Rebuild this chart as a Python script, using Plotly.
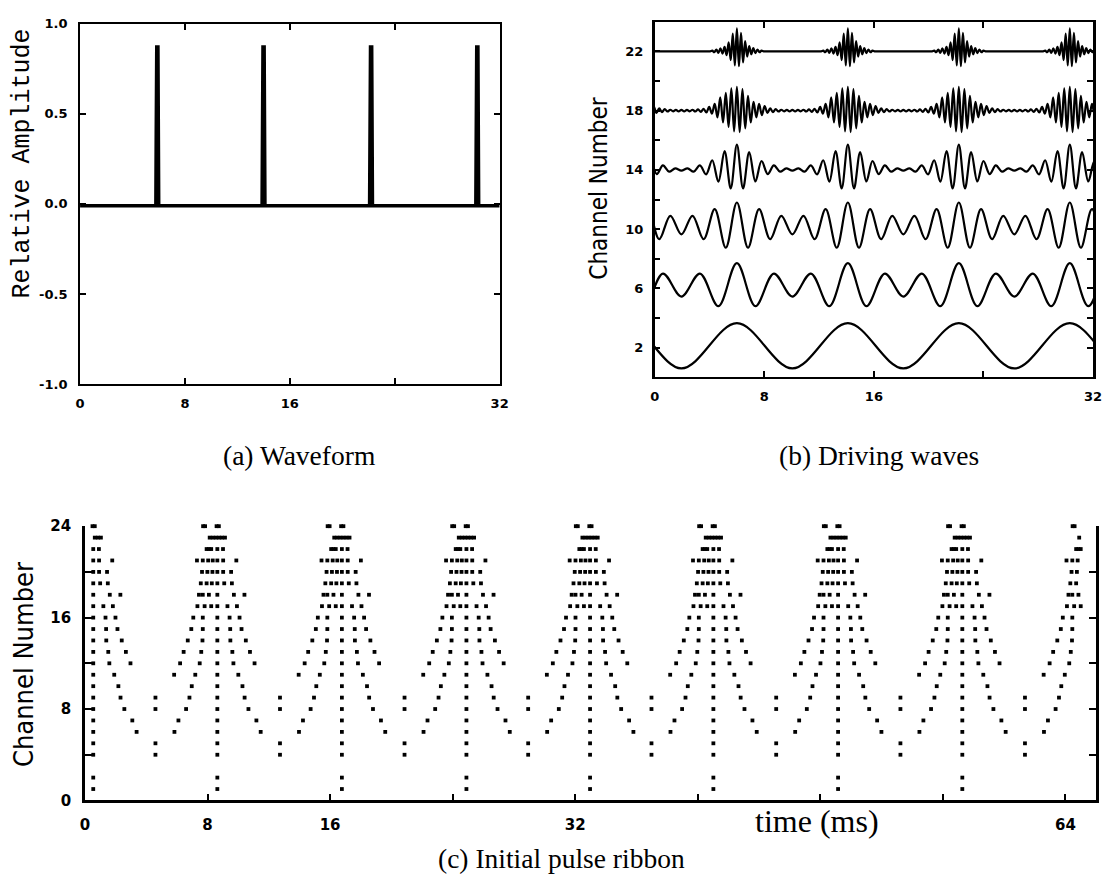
import plotly.graph_objects as go

# ---------------- data: panel (a) waveform ----------------
wave_spike_times = [5.9, 14.0, 22.2, 30.3]            # ms
wave_baseline = -0.01
spike_shape_dt = [-0.12, -0.09, -0.05, 0.04, 0.07, 0.1]
spike_shape_amp = [-0.01, 0.40, 0.87, 0.87, 0.30, -0.01]

# ---------------- data: panel (b) driving waves ----------------
drive_channels = [2, 6, 10, 14, 18, 22]
drive_centres = [-2.1, 6.0, 14.1, 22.2, 30.3, 38.4]    # ms, centre of each burst / peak
drive_period = 8.1
# extrema across one period, starting half a period before the centre
drive_ch2 = [-1.4, 1.65]
drive_ch6 = [-0.55, 1.0, -1.2, 1.7, -1.2, 1.0]
drive_ch10 = [-0.35, 0.9, -0.68, 1.35, -1.25, 1.8, -1.25, 1.35, -0.68, 0.9]
drive_ch14 = [-0.05, 0.1, -0.12, 0.3, -0.3, 0.65, -0.8, 1.27, -1.25, 1.7,
              -1.25, 1.2, -0.78, 0.6, -0.28, 0.3, -0.12, 0.1]
drive_ch18 = [0.05, -0.05, 0.05, -0.05, 0.06, -0.06, 0.08, -0.08, 0.12, -0.12,
              0.25, -0.2, 0.45, -0.45, 0.9, -0.8, 1.2, -1.1, 1.5, -1.4,
              1.6, -1.45, 1.45, -1.2, 1.0, -0.8, 0.6, -0.45, 0.45, -0.3,
              0.3, -0.15, 0.15, -0.1, 0.1, -0.06, 0.06, -0.05, 0.05, -0.05]
drive_ch22 = [0, 0, 0, 0, 0, 0, 0, 0, 0, 0, 0, 0, 0, 0, 0,
              0.05, -0.06, 0.12, -0.1, 0.2, -0.15, 0.3, -0.25, 0.6, -0.6,
              1.2, -0.95, 1.55, -1.0, 1.25, -0.75, 0.7, -0.35, 0.35, -0.2,
              0.22, -0.12, 0.12, -0.06, 0.05,
              0, 0, 0, 0, 0, 0, 0, 0, 0, 0, 0, 0, 0, 0]
drive_values = [drive_ch2, drive_ch6, drive_ch10, drive_ch14, drive_ch18, drive_ch22]

# ---------------- data: panel (c) pulse ribbon ----------------
ribbon_centres = [0.54, 8.64, 16.77, 24.9, 32.97, 41.02, 49.16, 57.27, 65.4]
ribbon_start = 0.45
ribbon_end = 65.0
ribbon_rows = [24, 23, 22, 21, 20, 19, 18, 17, 16, 15, 14, 13, 12, 11, 10, 9, 8, 7, 6, 5, 4, 2, 1]
ribbon_offsets = [
    [-0.93, -0.8, -0.05, 0.1],
    [-0.5, -0.3, -0.1, 0.1, 0.3, 0.5],
    [-0.7, -0.55, -0.4, 0.0, 0.37],
    [-1.33, -0.95, -0.6, -0.3, 0.0, 0.38, 1.24],
    [-1.0, -0.65, -0.32, 0.0, 0.38, 0.9],
    [-1.08, -0.7, -0.36, 0.0, 0.45, 0.95],
    [-1.2, -0.95, -0.55, 0.0, 1.08, 1.77],
    [-1.3, -0.83, -0.4, 0.0, 0.66, 1.28],
    [-1.57, -0.95, 0.0, 0.8, 1.45],
    [-1.7, -0.95, 0.0, 0.84, 1.58],
    [-1.93, -0.97, 0.0, 0.85, 1.86],
    [-2.2, -1.05, 0.0, 0.98, 2.13],
    [-2.43, -1.15, 0.0, 1.05, 2.43],
    [-2.82, -1.44, 0.0, 1.37],
    [-1.67, 0.0, 1.64],
    [-4.04, -1.82, 0.0, 1.78],
    [-4.04, -2.04, 0.0, 2.03],
    [-2.54, 0.0, 2.55],
    [-2.8, 0.0, 2.83],
    [-4.04, 0.0],
    [-4.04, 0.0],
    [0.0],
    [0.0],
]

# tick labels
a_xticks = [0, 8, 16, 24, 32]
a_xlabels = ["0", "8", "16", "", "32"]
a_yticks = [-1, -0.5, 0, 0.5, 1]
a_ylabels = ["-1.0", "-0.5", "0.0", "0.5", "1.0"]
b_yticks = [0, 2, 4, 6, 8, 10, 12, 14, 16, 18, 20, 22, 24]
b_ylabels = ["", "2", "", "6", "", "10", "", "14", "", "18", "", "22", ""]
c_xticks = [0, 8, 16, 24, 32, 40, 48, 56, 64]
c_xlabels = ["0", "8", "16", "", "32", "", "", "", "64"]
c_yticks = [0, 4, 8, 12, 16, 20, 24]
c_ylabels = ["0", "", "8", "", "16", "", "24"]

# ---------------- build ----------------
W, H = 1109, 879
fig = go.Figure()

wx, wy = [0.0], [wave_baseline]
for c in wave_spike_times:
    for dt, a in zip(spike_shape_dt, spike_shape_amp):
        wx.append(c + dt)
        wy.append(a)
wx.append(32.0)
wy.append(wave_baseline)
fig.add_trace(go.Scatter(x=wx, y=wy, mode="lines", line=dict(color="black", width=3.5),
                         xaxis="x", yaxis="y", showlegend=False, hoverinfo="skip"))

for ch, vals in zip(drive_channels, drive_values):
    n = len(vals)
    h = drive_period / n
    xs, ys = [], []
    for c in drive_centres:
        for k, v in enumerate(vals):
            xs.append(c - drive_period / 2 + k * h)
            ys.append(ch + v)
    fig.add_trace(go.Scatter(x=xs, y=ys, mode="lines",
                             line=dict(color="black", width=2.2, shape="spline", smoothing=1),
                             xaxis="x2", yaxis="y2", showlegend=False, hoverinfo="skip"))

rx, ry = [], []
for c in ribbon_centres:
    for row, offs in zip(ribbon_rows, ribbon_offsets):
        for o in offs:
            t = c + o
            if ribbon_start <= t <= ribbon_end:
                rx.append(t)
                ry.append(row)
fig.add_trace(go.Scatter(x=rx, y=ry, mode="markers", cliponaxis=False,
                         marker=dict(color="black", size=3.8, symbol="square"),
                         xaxis="x3", yaxis="y3", showlegend=False, hoverinfo="skip"))

tickfont = dict(family="DejaVu Sans", size=13, color="black", weight="bold")
base = dict(showline=True, linecolor="black", ticks="inside", tickcolor="black",
            showgrid=False, zeroline=False, tickfont=tickfont)

def dom(px0, px1, size):
    return [px0 / size, px1 / size]

fig.update_layout(
    width=W, height=H, margin=dict(l=0, r=0, t=0, b=0),
    paper_bgcolor="white", plot_bgcolor="white",
    xaxis=dict(base, domain=dom(76, 501, W), range=[0, 32], anchor="y",
               tickvals=a_xticks, ticktext=a_xlabels, mirror="ticks",
               linewidth=2, ticklen=6, tickwidth=2, ticklabelstandoff=6),
    yaxis=dict(base, domain=[1 - 383 / H, 1 - 15 / H], range=[-1, 1], anchor="x",
               tickvals=a_yticks, ticktext=a_ylabels, mirror="ticks",
               linewidth=2, ticklen=6, tickwidth=2, ticklabelstandoff=8),
    xaxis2=dict(base, domain=dom(658, 1102, W), range=[0, 32], anchor="y2",
                tickvals=a_xticks, ticktext=a_xlabels, mirror="ticks",
                linewidth=2, ticklen=6, tickwidth=2, ticklabelstandoff=6),
    yaxis2=dict(base, domain=[1 - 376 / H, 1 - 13 / H], range=[0, 24], anchor="x2",
                tickvals=b_yticks, ticktext=b_ylabels, mirror="ticks",
                linewidth=2.5, ticklen=6, tickwidth=2, ticklabelstandoff=6),
    xaxis3=dict(base, domain=dom(81, 1105, W), range=[0, 66], anchor="y3",
                tickvals=c_xticks, ticktext=c_xlabels, mirror=False,
                linewidth=2.5, ticklen=7, tickwidth=2, ticklabelstandoff=9,
                tickfont=dict(tickfont, size=15)),
    yaxis3=dict(base, domain=[1 - 808 / H, 1 - 528 / H], range=[0, 24], anchor="x3",
                tickvals=c_yticks, ticktext=c_ylabels, mirror="ticks",
                linewidth=2.5, ticklen=7, tickwidth=2, ticklabelstandoff=8,
                tickfont=dict(tickfont, size=15)),
)

def ann(text, x, y, size, family, angle=0, color="black"):
    fig.add_annotation(text=text, x=x / W, y=1 - y / H, xref="paper", yref="paper",
                       showarrow=False, textangle=angle, xanchor="center", yanchor="middle",
                       font=dict(family=family, size=size, color=color))

ann("Relative Amplitude", 18, 158, 25, "Liberation Mono", -90)
ann("Channel Number", 602, 183, 24, "DejaVu Sans Condensed, DejaVu Sans", -90)
ann("Channel Number", 19, 669, 27, "DejaVu Sans Condensed, DejaVu Sans", -90)
ann("time (ms)", 822, 829, 32, "Liberation Serif")
ann("(a) Waveform", 298, 456, 27.5, "Liberation Serif")
ann("(b) Driving waves", 885, 456, 27.5, "Liberation Serif")
ann("(c) Initial pulse ribbon", 564, 867, 27.5, "Liberation Serif")

fig.write_html("out.html")
